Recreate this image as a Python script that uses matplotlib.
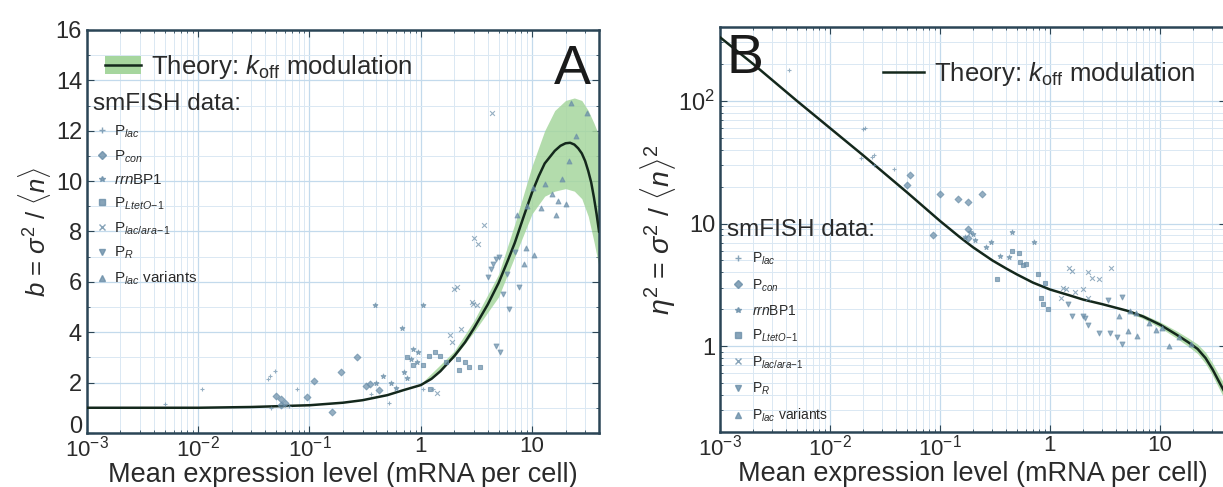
import matplotlib
matplotlib.use("Agg")
import matplotlib.pyplot as plt
import matplotlib.transforms as mtransforms
import numpy as np
from matplotlib.lines import Line2D
from matplotlib.patches import Patch

plt.rcParams['font.family'] = ['Liberation Sans', 'DejaVu Sans']
plt.rcParams['mathtext.fontset'] = 'custom'
plt.rcParams['mathtext.rm'] = 'Liberation Sans'
plt.rcParams['mathtext.it'] = 'Liberation Sans:italic'
plt.rcParams['mathtext.bf'] = 'Liberation Sans:bold'

# ---- theory curves -------------------------------------------------------
theory_a_x = [0.001, 0.01, 0.03, 0.1, 0.2, 0.3, 0.5, 0.7, 1, 1.25, 1.5, 2,
              2.5, 3, 4, 5, 6, 7, 8.5, 10, 11.5, 13, 16, 18, 20, 22, 24, 26,
              28, 30, 32, 34, 36, 38, 40]
theory_a_b = [1.0, 1.0, 1.03, 1.1, 1.2, 1.3, 1.5, 1.7, 1.9, 2.15, 2.45, 3.05,
              3.6, 4.15, 5.1, 5.95, 6.8, 7.55, 8.65, 9.55, 10.2, 10.7, 11.2,
              11.4, 11.5, 11.52, 11.45, 11.3, 11.1, 10.8, 10.4, 9.95, 9.35,
              8.7, 8.0]
band_a_x = [1, 2, 3, 5, 7, 10, 13, 16, 20, 24, 28, 32, 36, 40]
band_a_lo = [1.88, 3.0, 4.0, 5.4, 7.0, 8.7, 9.4, 9.6, 9.7, 9.6, 9.3, 8.6, 7.6, 6.6]
band_a_hi = [1.95, 3.25, 4.45, 6.3, 8.3, 10.6, 12.0, 12.8, 13.2, 13.3, 13.2,
             12.8, 12.3, 11.8]

theory_b_x = [0.001, 0.002, 0.005, 0.01, 0.02, 0.05, 0.1, 0.15, 0.2, 0.3, 0.4,
              0.5, 0.7, 1, 1.5, 2, 3, 5, 7, 10, 14, 18, 22, 26, 30, 35, 40]
theory_b_eta = [330, 200, 100, 60, 36, 18, 10.5, 7.8, 6.4, 5.0, 4.3, 3.85, 3.3,
                2.9, 2.6, 2.4, 2.2, 1.95, 1.75, 1.5, 1.25, 1.08, 0.95, 0.8,
                0.65, 0.5, 0.4]
band_b_x = [5, 7, 10, 14, 18, 22, 26, 30, 35, 40]
band_b_lo = [1.9, 1.68, 1.42, 1.17, 1.0, 0.87, 0.72, 0.58, 0.44, 0.35]
band_b_hi = [2.0, 1.82, 1.58, 1.34, 1.17, 1.04, 0.89, 0.73, 0.57, 0.46]

# ---- smFISH data, panel A (mean, Fano factor) ----------------------------
labels = [r'P$_{lac}$', r'P$_{con}$', r'$rrn$BP1', r'P$_{LtetO\!-\!1}$',
          r'P$_{lac/ara\!-\!1}$', r'P$_{R}$', r'P$_{lac}$ variants']
markers = ['+', 'D', '*', 's', 'x', 'v', '^']

a_lac_x = [0.0108, 0.005, 0.042, 0.044, 0.049, 0.078, 0.36, 0.52, 1.05, 1.3,
           0.045, 0.065]
a_lac_b = [1.73, 1.15, 2.13, 2.27, 2.47, 1.73, 1.53, 1.2, 1.73, 1.73, 1.0, 1.05]
a_con_x = [0.05, 0.055, 0.055, 0.06, 0.095, 0.109, 0.16, 0.19, 0.27, 0.32,
           0.35, 0.42]
a_con_b = [1.47, 1.33, 1.1, 1.2, 1.44, 2.07, 0.83, 2.4, 3.0, 1.87, 1.95, 1.7]
a_rrn_x = [0.39, 0.40, 0.46, 0.54, 0.68, 0.70, 0.81, 0.86, 0.92, 0.95, 1.05,
           0.6, 0.75]
a_rrn_b = [5.07, 2.0, 2.27, 2.0, 4.16, 2.4, 2.93, 3.33, 2.8, 3.2, 5.07, 1.8,
           2.2]
a_tet_x = [1.2, 1.35, 1.18, 0.75, 0.85, 1.05, 1.5, 1.7, 2.15, 2.5, 2.7, 3.4, 2.2]
a_tet_b = [1.73, 3.2, 3.07, 3.0, 2.7, 2.7, 3.07, 2.8, 2.93, 2.8, 2.6, 2.6, 2.5]
a_ara_x = [4.4, 3.7, 3.0, 3.3, 2.0, 2.1, 2.9, 2.95, 3.2, 2.3, 1.85, 1.9, 1.4]
a_ara_b = [12.7, 8.27, 7.73, 7.5, 5.73, 5.8, 5.2, 5.1, 5.07, 4.13, 3.87, 3.6, 1.6]
a_pr_x = [4.7, 5.2, 6.2, 7.7, 4.0, 4.5, 4.7, 5.0, 4.3, 5.5, 6.0, 7.0]
a_pr_b = [3.47, 3.2, 4.93, 5.8, 6.2, 6.7, 6.9, 7.0, 6.5, 5.5, 6.3, 7.2]
a_var_x = [7.4, 8.8, 10.5, 8.5, 10.1, 12, 16.5, 17, 18.5, 21.6, 22.3, 31, 15,
           13, 9, 25, 20]
a_var_b = [8.67, 7.33, 7.07, 6.7, 9.73, 8.93, 8.67, 9.2, 10.1, 10.8, 13.1,
           12.7, 9.5, 9.9, 9.0, 11.8, 9.1]

# ---- smFISH data, panel B (mean, noise) ----------------------------------
b_lac_x = [0.0042, 0.020, 0.021, 0.024, 0.025, 0.019, 0.025, 0.038]
b_lac_y = [177, 59, 60, 35, 36, 34, 30, 28]
b_con_x = [0.053, 0.05, 0.1, 0.147, 0.18, 0.087, 0.18, 0.18, 0.24]
b_con_y = [24.7, 20.5, 17.5, 15.9, 15.0, 8.0, 7.6, 9.0, 17.4]
b_rrn_x = [0.186, 0.2, 0.21, 0.26, 0.17, 0.45, 0.71, 0.29, 0.35, 0.42]
b_rrn_y = [8.5, 8.2, 7.4, 6.4, 7.8, 8.5, 7.1, 7.1, 5.4, 5.3]
b_tet_x = [0.45, 0.52, 0.53, 0.57, 0.6, 0.78, 0.33, 0.83, 0.87, 0.95, 0.9]
b_tet_y = [6.0, 5.8, 4.9, 4.6, 4.7, 3.9, 3.56, 2.45, 2.2, 2.0, 3.3]
b_ara_x = [1.48, 1.6, 3.6, 2.2, 2.4, 2.8, 1.32, 1.4, 1.7, 2.0, 2.2, 1.25]
b_ara_y = [4.3, 4.1, 4.3, 4.0, 3.6, 3.5, 3.0, 2.9, 2.75, 2.9, 2.45, 2.45]
b_pr_x = [1.45, 1.58, 2.0, 2.1, 2.2, 2.8, 3.5, 4.1, 4.5, 3.4, 4.5]
b_pr_y = [2.2, 1.77, 1.77, 1.7, 1.49, 1.29, 1.27, 1.2, 1.05, 2.4, 2.5]
b_var_x = [5.1, 6.2, 4.2, 5.3, 6.0, 9.3, 8, 10.5, 12, 15, 19]
b_var_y = [1.32, 1.22, 1.75, 1.94, 1.85, 1.35, 1.55, 1.42, 1.0, 1.2, 1.05]

a_series = [(a_lac_x, a_lac_b), (a_con_x, a_con_b), (a_rrn_x, a_rrn_b),
            (a_tet_x, a_tet_b), (a_ara_x, a_ara_b), (a_pr_x, a_pr_b),
            (a_var_x, a_var_b)]
b_series = [(b_lac_x, b_lac_y), (b_con_x, b_con_y), (b_rrn_x, b_rrn_y),
            (b_tet_x, b_tet_y), (b_ara_x, b_ara_y), (b_pr_x, b_pr_y),
            (b_var_x, b_var_y)]

line_col = '#14281c'
band_col = '#a6d69e'
pt_col = '#6a8ea8'
spine_col = '#2b4556'
text_col = '#2a2a2a'

fig = plt.figure(figsize=(12.23, 4.87), dpi=100)
axA = fig.add_axes([0.0711, 0.111, 0.4187, 0.8275])
axB = fig.add_axes([0.5887, 0.113, 0.4139, 0.8316])

xticks = [1e-3, 1e-2, 1e-1, 1, 10]
xticklabels = [r'10$^{-3}$', r'10$^{-2}$', r'10$^{-1}$', '1', '10']


def style(ax):
    ax.set_xscale('log')
    ax.set_xlim(1e-3, 40)
    ax.set_xticks(xticks)
    ax.set_xticklabels(xticklabels)
    ax.grid(True, which='major', color='#c3daec', lw=0.9)
    ax.grid(True, which='minor', color='#dae8f3', lw=0.7)
    ax.set_axisbelow(True)
    for s in ax.spines.values():
        s.set_color(spine_col)
        s.set_linewidth(1.8)
    ax.tick_params(which='both', direction='in', colors=spine_col,
                   labelcolor=text_col, labelsize=17, top=True, right=True)
    ax.tick_params(which='major', length=5)
    ax.tick_params(which='minor', length=2.5)
    ax.tick_params(axis='x', which='major', pad=2, labelsize=16)
    ax.set_xlabel('Mean expression level (mRNA per cell)', fontsize=19.5,
                  color=text_col, labelpad=0)


# ---- panel A -------------------------------------------------------------
style(axA)
axA.set_ylim(0, 16)
axA.set_yticks(range(0, 17, 2))
axA.set_yticks(range(1, 16, 2), minor=True)
axA.fill_between(band_a_x, band_a_lo, band_a_hi, color=band_col, alpha=0.85,
                 lw=0, zorder=2)
axA.plot(theory_a_x, theory_a_b, color=line_col, lw=1.8, zorder=3)
for (xs, ys), m in zip(a_series, markers):
    axA.scatter(xs, ys, marker=m, s=12, color=pt_col, alpha=0.7, lw=0.8,
                zorder=4)
axA.set_ylabel(r'$b$ = $\sigma^2$ / $\langle n \rangle$', fontsize=18.5,
               color=text_col, labelpad=2)
axA.text(0.985, 0.965, 'A', transform=axA.transAxes, ha='right', va='top',
         fontsize=40, color='#1a1a1a')
# lift the "0" label a little so it clears the 10^-3 label below it
zero_lbl = axA.get_yticklabels()[0]
zero_lbl.set_transform(zero_lbl.get_transform() +
                       mtransforms.ScaledTranslation(0, 6 / 72,
                                                     fig.dpi_scale_trans))

theory_handle = (Patch(facecolor=band_col, edgecolor='none'),
                 Line2D([], [], color=line_col, lw=1.8))
legA1 = axA.legend([theory_handle], [r'Theory: $k_{\rm off}$ modulation'],
                   loc='upper left', bbox_to_anchor=(-0.01, 1.0),
                   frameon=False, fontsize=18.5, handlelength=1.4,
                   handletextpad=0.4, labelcolor=text_col)
axA.add_artist(legA1)
data_handles = [Line2D([], [], ls='none', marker=m, ms=4, color=pt_col,
                       alpha=0.8) for m in markers]
legA2 = axA.legend(data_handles, labels, title='smFISH data:',
                   title_fontsize=17.5, fontsize=11, loc='upper left',
                   bbox_to_anchor=(-0.01, 0.87), frameon=False,
                   alignment='left', handlelength=1.2, handletextpad=0.2,
                   labelspacing=0.55, borderpad=0.2, labelcolor=text_col)
legA2.get_title().set_color(text_col)

# ---- panel B -------------------------------------------------------------
style(axB)
axB.set_yscale('log')
axB.set_ylim(0.2, 400)
axB.set_yticks([1, 10, 100])
axB.set_yticklabels(['1', '10', r'10$^2$'])
axB.fill_between(band_b_x, band_b_lo, band_b_hi, color=band_col, alpha=0.85,
                 lw=0, zorder=2)
axB.plot(theory_b_x, theory_b_eta, color=line_col, lw=1.8, zorder=3)
for (xs, ys), m in zip(b_series, markers):
    axB.scatter(xs, ys, marker=m, s=12, color=pt_col, alpha=0.7, lw=0.8,
                zorder=4)
axB.set_ylabel(r'$\eta^2$ = $\sigma^2$ / $\langle n \rangle^2$', fontsize=20.5,
               color=text_col, labelpad=0)
axB.text(0.012, 0.985, 'B', transform=axB.transAxes, ha='left', va='top',
         fontsize=40, color='#1a1a1a')

legB1 = axB.legend([Line2D([], [], color=line_col, lw=1.8)],
                   [r'Theory: $k_{\rm off}$ modulation'],
                   loc='upper right', bbox_to_anchor=(0.985, 0.975),
                   frameon=False, fontsize=18.5, handlelength=1.6,
                   handletextpad=0.4, labelcolor=text_col)
axB.add_artist(legB1)
legB2 = axB.legend(data_handles, labels, title='smFISH data:',
                   title_fontsize=17.5, fontsize=10, loc='upper left',
                   bbox_to_anchor=(-0.005, 0.55), frameon=False,
                   alignment='left', handlelength=1.6, handletextpad=0.2,
                   labelspacing=0.72, borderpad=0.2, labelcolor=text_col)
legB2.get_title().set_color(text_col)

fig.savefig('out.png', dpi=100)
